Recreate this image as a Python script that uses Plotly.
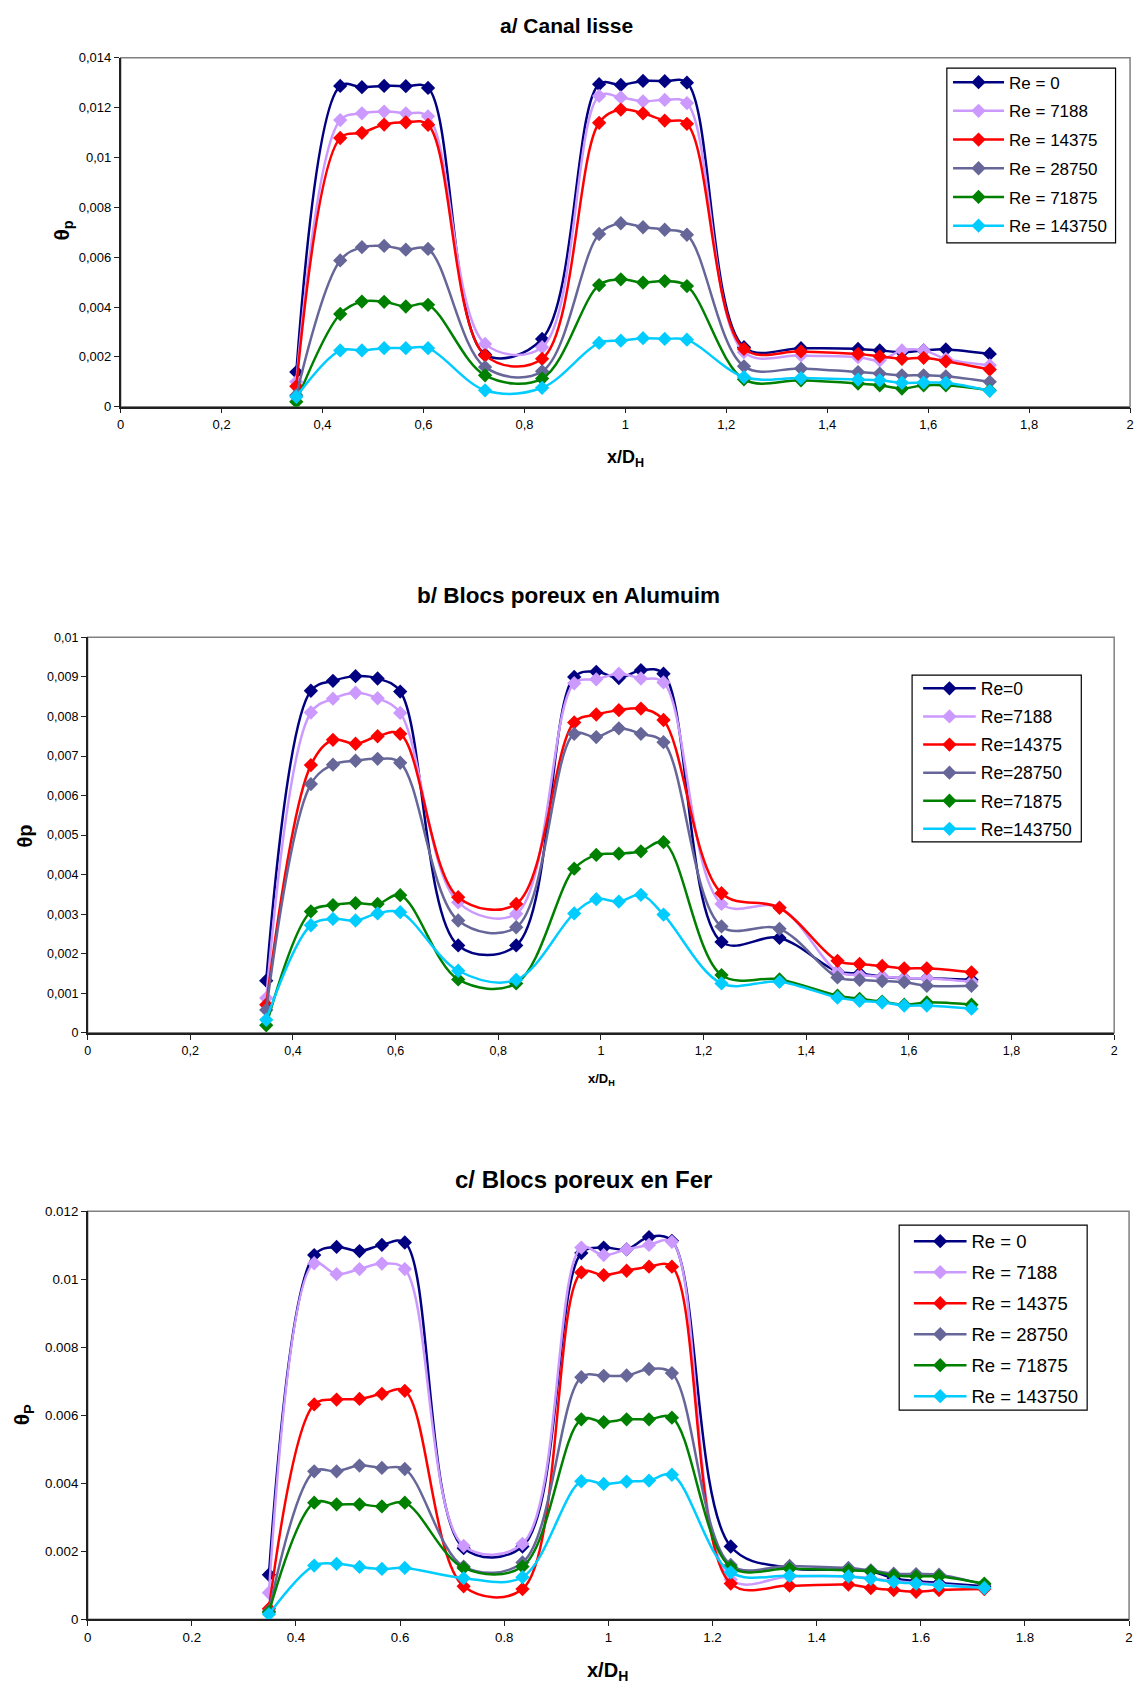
import plotly.graph_objects as go

# ---------------- data ----------------
x_dh = [0.348, 0.435, 0.478, 0.522, 0.565, 0.609, 0.722, 0.835, 0.948, 0.991, 1.035,
        1.078, 1.122, 1.235, 1.348, 1.461, 1.504, 1.548, 1.591, 1.635, 1.722]

re_values = [0, 7188, 14375, 28750, 71875, 143750]
series_colors = ["#000080", "#CC99FF", "#FF0000", "#666699", "#008000", "#00CCFF"]

# a/ Canal lisse
a_re0 = [0.00139, 0.01287, 0.01282, 0.01287, 0.01286, 0.01279, 0.00210, 0.00272, 0.01294, 0.01291, 0.01307,
         0.01306, 0.01300, 0.00239, 0.00235, 0.00232, 0.00226, 0.00219, 0.00226, 0.00230, 0.00212]
a_re7188 = [0.00100, 0.01150, 0.01177, 0.01184, 0.01177, 0.01165, 0.00252, 0.00239, 0.01247, 0.01241, 0.01225,
            0.01231, 0.01218, 0.00219, 0.00206, 0.00199, 0.00186, 0.00226, 0.00226, 0.00192, 0.00166]
a_re14375 = [0.00082, 0.01078, 0.01099, 0.01132, 0.01141, 0.01131, 0.00206, 0.00192, 0.01139, 0.01192, 0.01177,
             0.01148, 0.01135, 0.00232, 0.00222, 0.00212, 0.00202, 0.00192, 0.00196, 0.00182, 0.00149]
a_re28750 = [0.00046, 0.00587, 0.00640, 0.00645, 0.00630, 0.00633, 0.00159, 0.00142, 0.00693, 0.00736, 0.00720,
             0.00710, 0.00690, 0.00162, 0.00153, 0.00139, 0.00133, 0.00126, 0.00126, 0.00122, 0.00100]
a_re71875 = [0.00020, 0.00372, 0.00422, 0.00421, 0.00402, 0.00409, 0.00126, 0.00113, 0.00488, 0.00511, 0.00498,
             0.00504, 0.00484, 0.00110, 0.00106, 0.00093, 0.00086, 0.00073, 0.00086, 0.00086, 0.00066]
a_re143750 = [0.00040, 0.00226, 0.00226, 0.00235, 0.00235, 0.00235, 0.00066, 0.00076, 0.00256, 0.00265, 0.00275,
              0.00272, 0.00269, 0.00119, 0.00115, 0.00109, 0.00106, 0.00096, 0.00097, 0.00096, 0.00064]

# b/ Blocs poreux en Alumuim
b_re0 = [0.00132, 0.00865, 0.00890, 0.00902, 0.00896, 0.00863, 0.00221, 0.00221, 0.00900, 0.00913, 0.00897,
         0.00917, 0.00908, 0.00230, 0.00240, 0.00155, 0.00150, 0.00142, 0.00138, 0.00138, 0.00134]
b_re7188 = [0.00088, 0.00810, 0.00845, 0.00860, 0.00846, 0.00809, 0.00330, 0.00301, 0.00884, 0.00894, 0.00908,
            0.00896, 0.00886, 0.00326, 0.00317, 0.00155, 0.00146, 0.00142, 0.00138, 0.00138, 0.00129]
b_re14375 = [0.00071, 0.00677, 0.00741, 0.00731, 0.00750, 0.00756, 0.00343, 0.00326, 0.00785, 0.00805, 0.00816,
             0.00820, 0.00791, 0.00353, 0.00316, 0.00182, 0.00174, 0.00169, 0.00163, 0.00163, 0.00153]
b_re28750 = [0.00058, 0.00629, 0.00678, 0.00688, 0.00693, 0.00683, 0.00284, 0.00267, 0.00756, 0.00748, 0.00770,
             0.00756, 0.00735, 0.00269, 0.00263, 0.00140, 0.00134, 0.00131, 0.00128, 0.00119, 0.00119]
b_re71875 = [0.00019, 0.00307, 0.00323, 0.00328, 0.00326, 0.00348, 0.00135, 0.00125, 0.00415, 0.00450, 0.00453,
             0.00459, 0.00482, 0.00146, 0.00135, 0.00094, 0.00086, 0.00079, 0.00071, 0.00077, 0.00071]
b_re143750 = [0.00033, 0.00272, 0.00288, 0.00284, 0.00302, 0.00305, 0.00157, 0.00134, 0.00302, 0.00338, 0.00332,
              0.00349, 0.00299, 0.00125, 0.00129, 0.00089, 0.00081, 0.00077, 0.00069, 0.00069, 0.00061]

# c/ Blocs poreux en Fer
c_re0 = [0.00131, 0.01071, 0.01095, 0.01083, 0.01101, 0.01108, 0.00209, 0.00214, 0.01077, 0.01093, 0.01088,
         0.01124, 0.01113, 0.00214, 0.00151, 0.00146, 0.00141, 0.00121, 0.00112, 0.00107, 0.00097]
c_re7188 = [0.00078, 0.01047, 0.01015, 0.01030, 0.01046, 0.01030, 0.00216, 0.00222, 0.01093, 0.01071, 0.01088,
            0.01101, 0.01110, 0.00117, 0.00126, 0.00126, 0.00121, 0.00112, 0.00107, 0.00102, 0.00092]
c_re14375 = [0.00031, 0.00632, 0.00646, 0.00648, 0.00663, 0.00672, 0.00097, 0.00089, 0.01020, 0.01012, 0.01025,
             0.01037, 0.01037, 0.00105, 0.00099, 0.00102, 0.00092, 0.00086, 0.00081, 0.00086, 0.00089]
c_re28750 = [0.00024, 0.00435, 0.00435, 0.00452, 0.00445, 0.00442, 0.00155, 0.00167, 0.00712, 0.00716, 0.00717,
             0.00736, 0.00724, 0.00160, 0.00157, 0.00151, 0.00144, 0.00134, 0.00133, 0.00131, 0.00102]
c_re71875 = [0.00021, 0.00343, 0.00338, 0.00338, 0.00332, 0.00343, 0.00151, 0.00155, 0.00588, 0.00580, 0.00588,
             0.00588, 0.00593, 0.00154, 0.00149, 0.00144, 0.00141, 0.00129, 0.00126, 0.00126, 0.00105]
c_re143750 = [0.00015, 0.00158, 0.00163, 0.00154, 0.00148, 0.00151, 0.00121, 0.00124, 0.00406, 0.00398, 0.00405,
              0.00408, 0.00425, 0.00138, 0.00128, 0.00126, 0.00119, 0.00110, 0.00105, 0.00100, 0.00092]

x_ticks = [0, 0.2, 0.4, 0.6, 0.8, 1.0, 1.2, 1.4, 1.6, 1.8, 2.0]
x_labels_comma = ["0", "0,2", "0,4", "0,6", "0,8", "1", "1,2", "1,4", "1,6", "1,8", "2"]
x_labels_dot = ["0", "0.2", "0.4", "0.6", "0.8", "1", "1.2", "1.4", "1.6", "1.8", "2"]
ya_ticks = [0, 0.002, 0.004, 0.006, 0.008, 0.010, 0.012, 0.014]
ya_labels = ["0", "0,002", "0,004", "0,006", "0,008", "0,01", "0,012", "0,014"]
yb_ticks = [0, 0.001, 0.002, 0.003, 0.004, 0.005, 0.006, 0.007, 0.008, 0.009, 0.010]
yb_labels = ["0", "0,001", "0,002", "0,003", "0,004", "0,005", "0,006", "0,007", "0,008", "0,009", "0,01"]
yc_ticks = [0, 0.002, 0.004, 0.006, 0.008, 0.010, 0.012]
yc_labels = ["0", "0.002", "0.004", "0.006", "0.008", "0.01", "0.012"]

panel_a = [a_re0, a_re7188, a_re14375, a_re28750, a_re71875, a_re143750]
panel_b = [b_re0, b_re7188, b_re14375, b_re28750, b_re71875, b_re143750]
panel_c = [c_re0, c_re7188, c_re14375, c_re28750, c_re71875, c_re143750]

# ---------------- figure ----------------
W, H = 1142, 1693
FONT = "Liberation Sans, Arial, sans-serif"

def px(v):
    return v / W

def py(v):
    return 1 - v / H

fig = go.Figure()

panels = [
    (panel_a, "x", "y", "legend", "Re = {}"),
    (panel_b, "x2", "y2", "legend2", "Re={}"),
    (panel_c, "x3", "y3", "legend3", "Re = {}"),
]
for data, xa, ya, lg, fmt in panels:
    for i, (re_v, ys, col) in enumerate(zip(re_values, data, series_colors)):
        fig.add_trace(go.Scatter(
            x=x_dh, y=ys, xaxis=xa, yaxis=ya, legend=lg,
            name=fmt.format(re_v), legendgroup=lg + str(i),
            mode="lines+markers",
            line=dict(color=col, width=2.5, shape="spline", smoothing=1.0),
            marker=dict(symbol="diamond", size=11, color=col, line=dict(width=0)),
        ))

axis_common = dict(showgrid=False, zeroline=False, showline=True, linecolor="#202020",
                   linewidth=1.5, ticks="outside", ticklen=5, tickcolor="#202020",
                   tickwidth=1.2, color="black")

doms = {
    "a": dict(x=[px(117.5), px(1134)], y=[py(403.3), py(51.2)]),
    "b": dict(x=[px(84.2), px(1118)], y=[py(1035), py(636)]),
    "c": dict(x=[px(84.3), px(1133)], y=[py(1626.7), py(1215)]),
}

fig.update_layout(
    width=W, height=H, margin=dict(l=0, r=0, t=0, b=0),
    paper_bgcolor="white", plot_bgcolor="white",
    font=dict(family=FONT, color="black"),
    showlegend=True,
    xaxis=dict(domain=doms["a"]["x"], anchor="y", range=[0, 2], tickvals=x_ticks, ticktext=x_labels_comma,
               tickfont=dict(size=13), **axis_common),
    yaxis=dict(domain=doms["a"]["y"], anchor="x", range=[0, 0.014], tickvals=ya_ticks, ticktext=ya_labels,
               tickfont=dict(size=13), **axis_common),
    xaxis2=dict(domain=doms["b"]["x"], anchor="y2", range=[0, 2], tickvals=x_ticks, ticktext=x_labels_comma,
                tickfont=dict(size=12.5), **axis_common),
    yaxis2=dict(domain=doms["b"]["y"], anchor="x2", range=[0, 0.01], tickvals=yb_ticks, ticktext=yb_labels,
                tickfont=dict(size=12.5), **axis_common),
    xaxis3=dict(domain=doms["c"]["x"], anchor="y3", range=[0, 2], tickvals=x_ticks, ticktext=x_labels_dot,
                tickfont=dict(size=13.3), **axis_common),
    yaxis3=dict(domain=doms["c"]["y"], anchor="x3", range=[0, 0.012], tickvals=yc_ticks, ticktext=yc_labels,
                tickfont=dict(size=13.3), **axis_common),
)

# legends: boxes drawn as shapes, entries placed inside
legend_common = dict(bgcolor="rgba(0,0,0,0)", borderwidth=0, xanchor="left", yanchor="top",
                     traceorder="grouped")
fig.update_layout(
    legend=dict(x=px(950.7), y=py(58.1), font=dict(size=17, family=FONT), tracegroupgap=3.6,
                itemwidth=51, **legend_common),
    legend2=dict(x=px(920.6), y=py(669.4), font=dict(size=17.5, family=FONT), tracegroupgap=2.35,
                 itemwidth=52.6, **legend_common),
    legend3=dict(x=px(911.3), y=py(1226.5), font=dict(size=18.5, family=FONT), tracegroupgap=3.95,
                 itemwidth=52.6, **legend_common),
)
for x0, x1, y0, y1 in [(949.5, 1119.4, 61.7, 238.0), (914.5, 1084.9, 674.0, 842.3),
                       (901.5, 1090.8, 1229.0, 1415.7)]:
    fig.add_shape(type="rect", xref="paper", yref="paper", x0=px(x0), x1=px(x1), y0=py(y1), y1=py(y0),
                  line=dict(color="black", width=1.2), fillcolor="white", layer="above")

# frames (plot area border)
for xr, yr in [("x", "y"), ("x2", "y2"), ("x3", "y3")]:
    fig.add_shape(type="rect", xref=xr + " domain", yref=yr + " domain", x0=0, x1=1, y0=0, y1=1,
                  line=dict(color="#808080", width=1.5), layer="below")

def ann(text, x, y, size, angle=0):
    fig.add_annotation(text=text, x=px(x), y=py(y), xref="paper", yref="paper", showarrow=False,
                       xanchor="center", yanchor="middle", textangle=angle,
                       font=dict(size=size, family=FONT, color="black"))

ann("<b>a/ Canal lisse</b>", 566, 19, 21)
ann("<b>b/ Blocs poreux en Alumuim</b>", 568.7, 594, 22.5)
ann("<b>c/ Blocs poreux en Fer</b>", 583.7, 1182.5, 24)

ann("<b>x/D<sub>H</sub></b>", 626, 456, 18)
ann("<b>x/D<sub>H</sub></b>", 602, 1082, 13)
ann("<b>x/D<sub>H</sub></b>", 608, 1679, 20)

ann("<b>θ<sub>p</sub></b>", 59, 226, 21, -90)
ann("<b>θp</b>", 21, 836, 20, -90)
ann("<b>θ<sub>P</sub></b>", 20, 1420, 21, -90)

fig.write_html("out.html", config={"displayModeBar": False},
               post_script="document.body.style.margin='0';document.body.style.padding='0';document.body.style.overflow='hidden';")
